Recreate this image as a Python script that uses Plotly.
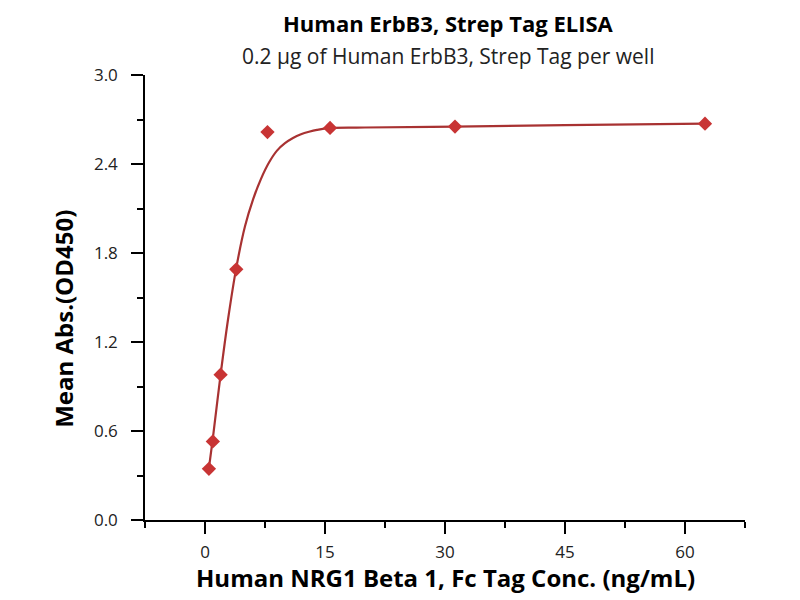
import plotly.graph_objects as go

# measured points
conc = [0.49, 0.98, 1.95, 3.91, 7.81, 15.63, 31.25, 62.5]
od450 = [0.345, 0.53, 0.98, 1.69, 2.615, 2.643, 2.652, 2.672]

# fitted curve
fit_x = [0.49, 0.98, 1.95, 2.9, 3.91, 5.0, 6.0, 7.0, 8.0, 9.0, 10.0, 11.0, 12.0,
         13.0, 14.0, 15.63, 20.0, 31.25, 45.0, 62.5]
fit_y = [0.35, 0.55, 0.98, 1.36, 1.70, 1.98, 2.16, 2.30, 2.41, 2.49, 2.54, 2.575,
         2.60, 2.617, 2.63, 2.643, 2.646, 2.652, 2.662, 2.672]

x_ticks = [0, 15, 30, 45, 60]
y_ticks = [0.0, 0.6, 1.2, 1.8, 2.4, 3.0]

font = "Open Sans"

fig = go.Figure()

fig.add_trace(go.Scatter(
    x=fit_x, y=fit_y, mode="lines", line_shape="spline",
    line=dict(color="#a83232", width=2.2), hoverinfo="skip", showlegend=False
))

fig.add_trace(go.Scatter(
    x=conc, y=od450, mode="markers",
    marker=dict(symbol="diamond", size=11, color="#c83434"),
    showlegend=False
))

fig.update_xaxes(
    range=[-7.5, 67.5], tickvals=x_ticks, ticktext=[str(v) for v in x_ticks],
    showgrid=False, zeroline=False, showline=True, linecolor="black", linewidth=1.5,
    ticks="outside", ticklen=12, tickwidth=1.5, tickcolor="black", ticklabelstandoff=4,
    minor=dict(dtick=7.5, tick0=0, ticks="outside", ticklen=6, tickwidth=1.5, tickcolor="black"),
    tickfont=dict(family=font, size=17, color="#222")
)

fig.update_yaxes(
    range=[0, 3.0], tickvals=y_ticks, ticktext=["%.1f" % v for v in y_ticks],
    showgrid=False, zeroline=False, showline=True, linecolor="black", linewidth=1.5,
    ticks="outside", ticklen=12, tickwidth=1.5, tickcolor="black", ticklabelstandoff=10,
    minor=dict(dtick=0.3, tick0=0, ticks="outside", ticklen=6, tickwidth=1.5, tickcolor="black"),
    tickfont=dict(family=font, size=17, color="#222")
)

fig.add_annotation(
    text="<b>Human NRG1 Beta 1, Fc Tag Conc. (ng/mL)</b>", xref="paper", yref="paper",
    x=0.5, y=-0.13, xanchor="center", yanchor="middle", showarrow=False,
    font=dict(family=font, size=24, color="black")
)
fig.add_annotation(
    text="<b>Mean Abs.(OD450)</b>", xref="paper", yref="paper",
    x=-0.135, y=0.452, xanchor="center", yanchor="middle", textangle=-90,
    showarrow=False, font=dict(family=font, size=24, color="black")
)

fig.add_annotation(
    text="<b>Human ErbB3, Strep Tag ELISA</b>", xref="paper", yref="paper",
    x=0.505, y=1.117, xanchor="center", yanchor="middle", showarrow=False,
    font=dict(family=font, size=22, color="black")
)
fig.add_annotation(
    text="0.2 µg of Human ErbB3, Strep Tag per well", xref="paper", yref="paper",
    x=0.505, y=1.043, xanchor="center", yanchor="middle", showarrow=False,
    font=dict(family=font, size=21, color="#222")
)

# page body has an 8px margin, so shift the plot area back by 8px
fig.update_layout(
    width=800, height=600,
    margin=dict(l=137, r=63, t=67, b=88),
    plot_bgcolor="white", paper_bgcolor="white"
)

fig.write_html("out.html")
